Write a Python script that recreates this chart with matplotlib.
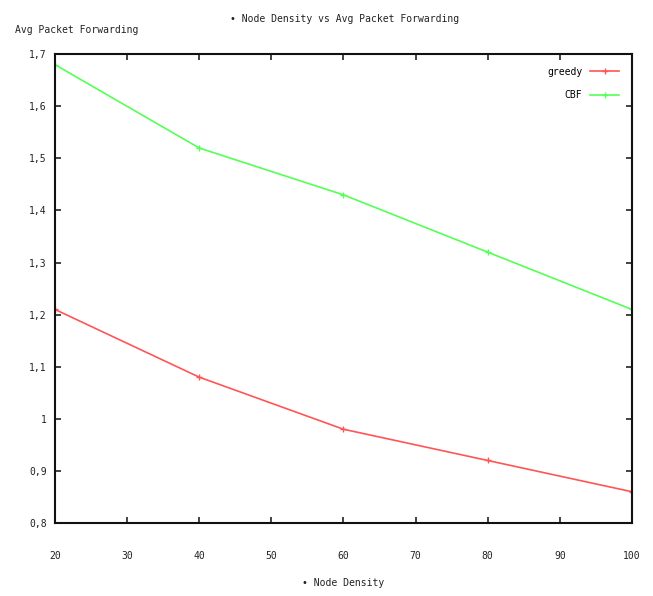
import matplotlib.pyplot as plt
from matplotlib.ticker import FuncFormatter

# node density vs avg packet forwarding
density = [20, 40, 60, 80, 100]
greedy = [1.21, 1.08, 0.98, 0.92, 0.86]
cbf = [1.68, 1.52, 1.43, 1.32, 1.21]

x_ticks = [20, 30, 40, 50, 60, 70, 80, 90, 100]
y_ticks = [0.8, 0.9, 1.0, 1.1, 1.2, 1.3, 1.4, 1.5, 1.6, 1.7]

plt.rcParams['font.family'] = ['DejaVu Sans Mono', 'DejaVu Sans']

fig = plt.figure(figsize=(6.53, 5.96), dpi=100)
ax = fig.add_axes([0.0842, 0.1225, 0.8836, 0.7865])

ax.plot(density, greedy, color='#ff5555', marker='+', markersize=4, lw=1.2, label='greedy')
ax.plot(density, cbf, color='#55ff55', marker='+', markersize=4, lw=1.2, label='CBF')

ax.set_xlim(20, 100)
ax.set_ylim(0.8, 1.7)
ax.set_xticks(x_ticks)
ax.set_yticks(y_ticks)
ax.yaxis.set_major_formatter(FuncFormatter(lambda v, p: ('%g' % round(v, 2)).replace('.', ',')))

ax.tick_params(direction='in', length=4, width=1.2, top=True, right=True,
               labelsize=7, colors='#222222')
ax.tick_params(axis='x', pad=20)
ax.tick_params(axis='y', pad=6)
for s in ax.spines.values():
    s.set_linewidth(1.5)
    s.set_color('#111111')

fig.text(0.528, 0.968, '\u2022 Node Density vs Avg Packet Forwarding', ha='center', va='center',
         fontsize=7, color='#222222')
fig.text(0.023, 0.949, 'Avg Packet Forwarding', ha='left', va='center', fontsize=7, color='#222222')
fig.text(0.525, 0.022, '\u2022 Node Density', ha='center', va='center', fontsize=7, color='#222222')

leg = ax.legend(loc='upper right', frameon=False, fontsize=7, markerfirst=False, numpoints=1,
                handlelength=3, labelspacing=1.4, borderaxespad=0.9)

fig.savefig('out.png', dpi=100)
